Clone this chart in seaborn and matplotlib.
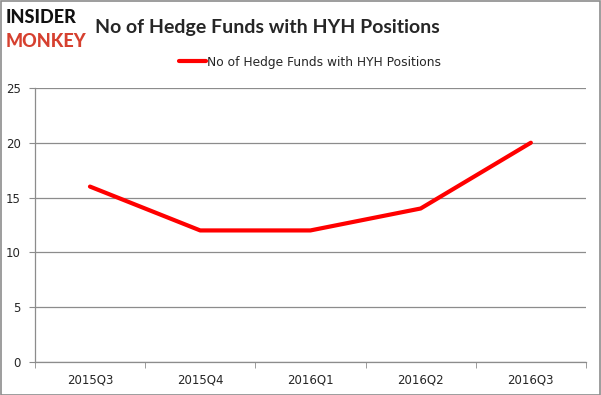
import matplotlib
matplotlib.use("Agg")
import matplotlib.pyplot as plt
import seaborn as sns
import pandas as pd

quarters = ["2015Q3", "2015Q4", "2016Q1", "2016Q2", "2016Q3"]
hedge_funds = [16, 12, 12, 14, 20]
series_name = "No of Hedge Funds with HYH Positions"

df = pd.DataFrame({"quarter": quarters, "funds": hedge_funds})

sns.set_style("white")
plt.rcParams["font.family"] = ["DejaVu Sans"]

fig = plt.figure(figsize=(6.01, 3.95), dpi=100)
ax = fig.add_axes([0.058, 0.0835, 0.917, 0.694])

sns.lineplot(data=df, x="quarter", y="funds", ax=ax, color="#ff0000",
             linewidth=3, label=series_name, sort=False)

ax.set_xlim(-0.5, len(quarters) - 0.5)
ax.set_ylim(0, 25)
ax.set_yticks(range(0, 26, 5))
ax.yaxis.grid(True, color="#8c8c8c", linewidth=0.9)
ax.set_axisbelow(True)
ax.set_xlabel("")
ax.set_ylabel("")

for side in ["top", "right"]:
    ax.spines[side].set_visible(False)
for side in ["left", "bottom"]:
    ax.spines[side].set_color("#8c8c8c")
    ax.spines[side].set_linewidth(0.9)

ax.set_xticks(range(len(quarters)))
ax.set_xticklabels(quarters)
ax.set_xticks([i - 0.5 for i in range(len(quarters) + 1)], minor=True)
ax.tick_params(axis="x", which="major", length=0, labelsize=8.5, pad=8)
ax.tick_params(axis="x", which="minor", length=4, color="#8c8c8c", bottom=True)
ax.tick_params(axis="y", length=4, color="#8c8c8c", left=True, labelsize=8.5, pad=6)

leg = ax.legend(loc="lower center", bbox_to_anchor=(0.5, 1.03), frameon=False,
                fontsize=8.8, handlelength=2.2, handletextpad=0.1)

fig.text(0.158, 0.93, "No of Hedge Funds with HYH Positions", fontsize=14,
         fontweight="bold", family="Lato", va="center", ha="left")
fig.text(0.01, 0.955, "INSIDER", fontsize=13, fontweight="black",
         family="Lato", va="center", ha="left", color="#111111")
fig.text(0.01, 0.895, "MONKEY", fontsize=13, fontweight="black",
         family="Lato", va="center", ha="left", color="#d6402f")

fig.patches.append(plt.Rectangle((0.001, 0.001), 0.997, 0.997, transform=fig.transFigure,
                                 fill=False, edgecolor="#8c8c8c", linewidth=1.2))

fig.savefig("out.png", dpi=100)
